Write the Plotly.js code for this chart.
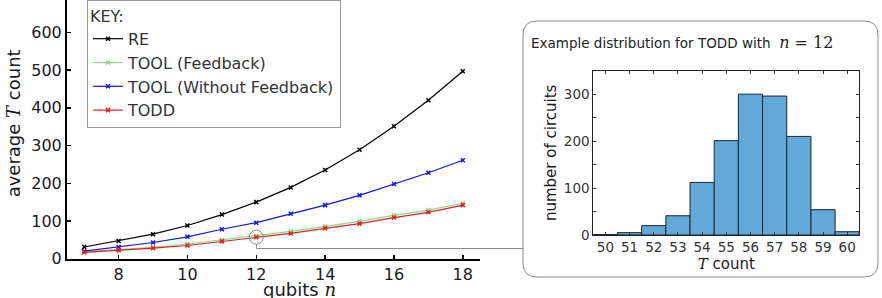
<!DOCTYPE html>
<html>
<head>
<meta charset="utf-8">
<script src="https://cdn.plot.ly/plotly-3.0.1.min.js"></script>
<style>
  html, body { margin: 0; padding: 0; background: #fff; overflow: hidden; }
  #wrap { position: relative; width: 882px; height: 298px; overflow: hidden; }
  /* the figure is a little taller than the window and shifted up so the top tick label is clipped */
  #chart { position: absolute; left: 0; top: -12px; width: 882px; height: 310px; }
</style>
</head>
<body>
<div id="wrap"><div id="chart"></div></div>
<script>
// Average T count against number of qubits
const qubits   = [7, 8, 9, 10, 11, 12, 13, 14, 15, 16, 17, 18];
const reAvg    = [31, 47, 65, 88, 117, 150, 189, 235, 289, 351, 420, 497];
const toolFb   = [18.5, 24, 30, 39, 49.5, 61, 72.5, 86, 99, 115, 129, 147];
const toolNoFb = [20, 31, 43, 58, 78, 95.5, 119, 142, 168, 198, 228, 261];
const toddAvg  = [17, 22, 28, 35, 46, 57, 67, 80.5, 93, 109, 123, 142];

// Distribution of TODD T counts for n = 12
const histBins   = [50, 51, 52, 53, 54, 55, 56, 57, 58, 59, 60];
const histCounts = [1, 5, 20, 41, 112, 201, 300, 296, 210, 54, 7];

const yTicksMain = [0, 100, 200, 300, 400, 500, 600, 700];
const xTicksMain = [8, 10, 12, 14, 16, 18];
const yTicksInset = [0, 50, 100, 150, 200, 250, 300, 350];
const yTickTextInset = ['0', '', '100', '', '200', '', '300', ''];

const FONT = 'DejaVu Sans, Lato, sans-serif';
const SERIF = 'DejaVu Serif, Liberation Serif, serif';

// page-pixel helpers (figure is 882 x 310, drawn 12px above the window)
const W = 882, H = 310, OFF = 12;
const px = x => x / W;
const py = y => (H - (y + OFF)) / H;

function series(name, y, color) {
  return {
    type: 'scatter', mode: 'lines+markers', name: name,
    x: qubits, y: y, xaxis: 'x', yaxis: 'y',
    line: {color: color, width: 1.2},
    marker: {symbol: 'x-thin', size: 4, line: {color: color, width: 1.5}, color: color},
    cliponaxis: false
  };
}

const traces = [
  series('RE', reAvg, '#000000'),
  series('TOOL (Feedback)', toolFb, '#86de86'),
  series('TOOL (Without Feedback)', toolNoFb, '#1414e6'),
  series('TODD', toddAvg, '#e61e1e'),
  {
    type: 'bar', x: histBins, y: histCounts, xaxis: 'x2', yaxis: 'y2',
    marker: {color: '#62a8d8', line: {color: '#1b2631', width: 1}},
    showlegend: false
  }
];

// rounded frame around the inset
const bx0 = px(523), bx1 = px(878), byT = py(21), byB = py(277);
const rx = 14 / W, ry = 14 / H;
const framePath = [
  'M', bx0 + rx, byT, 'L', bx1 - rx, byT, 'Q', bx1, byT, bx1, byT - ry,
  'L', bx1, byB + ry, 'Q', bx1, byB, bx1 - rx, byB,
  'L', bx0 + rx, byB, 'Q', bx0, byB, bx0, byB + ry,
  'L', bx0, byT - ry, 'Q', bx0, byT, bx0 + rx, byT, 'Z'
].join(' ');

const focusN = 12;
const focusVal = toddAvg[qubits.indexOf(focusN)];

const layout = {
  width: W, height: H,
  margin: {l: 0, r: 0, t: 0, b: 0},
  paper_bgcolor: '#fff', plot_bgcolor: '#fff',
  font: {family: FONT, color: '#1a1a1a', size: 16},
  showlegend: true,
  legend: {
    x: px(87), y: py(0), xanchor: 'left', yanchor: 'top',
    bordercolor: '#9a9a9a', borderwidth: 1, bgcolor: '#fff',
    font: {family: FONT, size: 16, color: '#333'},
    title: {text: 'KEY:', font: {family: FONT, size: 16, color: '#333'}},
    tracegroupgap: 0, itemwidth: 30
  },
  xaxis: {
    domain: [px(67), px(480)], range: [6.5, 18.5],
    tickvals: xTicksMain, ticks: 'inside', ticklen: 4, tickwidth: 1.5, tickcolor: '#000',
    showline: true, linecolor: '#000', linewidth: 2, showgrid: false, zeroline: false,
    tickfont: {size: 16}, anchor: 'y'
  },
  yaxis: {
    domain: [py(258.7), 1], range: [0, (258.7 + OFF) / 0.3772],
    tickvals: yTicksMain, ticks: 'inside', ticklen: 4, tickwidth: 1.5, tickcolor: '#000',
    showline: true, linecolor: '#000', linewidth: 2, showgrid: false, zeroline: false,
    tickfont: {size: 16}, anchor: 'x',
    title: {text: 'average <span style="font-family:' + SERIF + '"><i>T</i></span> count',
            font: {size: 18}, standoff: 6}
  },
  xaxis2: {
    domain: [px(593.3), px(859.3)], range: [49.5, 60.5], anchor: 'y2',
    tickvals: histBins, ticks: 'inside', ticklen: 3, tickcolor: '#333',
    showline: true, mirror: 'ticks', linecolor: '#222', linewidth: 1,
    showgrid: false, zeroline: false, tickfont: {size: 13.5, color: '#333'},
    title: {text: '<span style="font-family:' + SERIF + '"><i>T</i></span> count',
            font: {size: 15}, standoff: 4}
  },
  yaxis2: {
    domain: [py(235), py(70.7)], range: [0, 350], anchor: 'x2',
    tickvals: yTicksInset, ticktext: yTickTextInset, ticks: 'inside', ticklen: 3, tickcolor: '#333',
    showline: true, mirror: 'ticks', linecolor: '#222', linewidth: 1,
    showgrid: false, zeroline: false, tickfont: {size: 13.5, color: '#333'},
    title: {text: 'number of circuits', font: {size: 15}, standoff: 3}
  },
  bargap: 0,
  shapes: [
    {type: 'path', xref: 'paper', yref: 'paper', path: framePath,
     line: {color: '#8a8a8a', width: 1}, fillcolor: 'rgba(0,0,0,0)'},
    {type: 'circle', xref: 'x', yref: 'y', xsizemode: 'pixel', ysizemode: 'pixel',
     xanchor: focusN, yanchor: focusVal, x0: -7, x1: 7, y0: -7, y1: 7,
     line: {color: '#8a8a8a', width: 1}},
    {type: 'path', xref: 'paper', yref: 'paper',
     path: 'M ' + px(256.5) + ' ' + py(244.5) + ' L ' + px(256.5) + ' ' + py(248.5) +
           ' L ' + bx0 + ' ' + py(248.5),
     line: {color: '#8a8a8a', width: 1}}
  ],
  annotations: [
    {xref: 'paper', yref: 'paper', x: (px(67) + px(480)) / 2 + 26 / W, y: py(289),
     xanchor: 'center', yanchor: 'middle', showarrow: false,
     text: 'qubits <span style="font-family:' + SERIF + '"><i>n</i></span>',
     font: {size: 18}},
    {xref: 'paper', yref: 'paper', x: px(529), y: py(42),
     xanchor: 'left', yanchor: 'middle', showarrow: false,
     text: 'Example distribution for TODD with  <span style="font-family:' + SERIF +
           ';font-size:16px"><i>n</i> = 12</span>',
     font: {size: 13.5, color: '#222'}}
  ]
};

Plotly.newPlot('chart', traces, layout, {staticPlot: true, displayModeBar: false});
</script>
</body>
</html>
